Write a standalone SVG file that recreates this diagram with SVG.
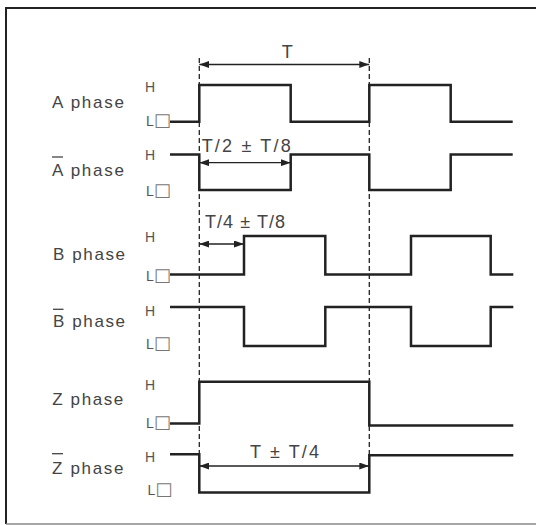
<svg xmlns="http://www.w3.org/2000/svg" width="536" height="525" viewBox="0 0 536 525">
<style>
  .lbl { font-family: "Liberation Sans", Arial, sans-serif; font-size: 17px; fill: #444; }
  .hl { font-family: "Liberation Sans", Arial, sans-serif; font-size: 14px; fill: #555; }
  .sq { font-family: "DejaVu Sans", sans-serif; font-size: 18px; fill: #777; }
  .dim { font-family: "Liberation Sans", Arial, sans-serif; font-size: 18px; fill: #444; }
  .sig { fill: none; stroke: #222; stroke-width: 2.5; stroke-linejoin: miter; }
  .ovl { stroke: #444; stroke-width: 1.3; }
  .dash { stroke: #222; stroke-width: 1.3; stroke-dasharray: 5 3; fill: none; }
  .arr { stroke: #222; stroke-width: 1.3; fill: none; marker-start: url(#ah); marker-end: url(#ah); }
</style>
<defs>
  <marker id="ah" viewBox="0 0 10 7" refX="10" refY="3.5" markerWidth="10" markerHeight="7" markerUnits="userSpaceOnUse" orient="auto-start-reverse">
    <path d="M0,0 L10,3.5 L0,7 z" fill="#222"/>
  </marker>
</defs>
<rect width="536" height="525" fill="#fff"/>
<g id="frame">
  <path d="M6,524 V8 H536" fill="none" stroke="#222" stroke-width="2"/>
  <path d="M6,524 H536" fill="none" stroke="#888" stroke-width="1.5"/>
</g>
<g id="guides">
  <line class="dash" x1="199.3" y1="58" x2="199.3" y2="493"/>
  <line class="dash" x1="369.3" y1="58" x2="369.3" y2="493"/>
</g>
<g id="phase-a">
  <text class="lbl" x="52" y="108.3" textLength="72" lengthAdjust="spacing">A phase</text>
  <text class="hl" x="145" y="91.5">H</text>
  <text class="hl" x="146" y="125.5">L<tspan class="sq">□</tspan></text>
  <path class="sig" d="M170,121.7 H199.3 V85 H290.7 V121.7 H369.3 V85 H450.7 V121.7 H512.7"/>
</g>
<g id="phase-a-bar">
  <line class="ovl" x1="52" y1="157" x2="63" y2="157"/>
  <text class="lbl" x="52" y="175.5" textLength="72" lengthAdjust="spacing">A phase</text>
  <text class="hl" x="145" y="159.8">H</text>
  <text class="hl" x="146" y="195.5">L<tspan class="sq">□</tspan></text>
  <path class="sig" d="M170,154.5 H199.3 V190 H290.7 V154.5 H369.3 V190 H450.7 V154.5 H512.7"/>
</g>
<g id="phase-b">
  <text class="lbl" x="53" y="260" textLength="72" lengthAdjust="spacing">B phase</text>
  <text class="hl" x="145" y="242">H</text>
  <text class="hl" x="146" y="280.5">L<tspan class="sq">□</tspan></text>
  <path class="sig" d="M170,274.5 H244 V236 H325.3 V274.5 H411 V236 H490.7 V274.5 H513.3"/>
</g>
<g id="phase-b-bar">
  <line class="ovl" x1="53" y1="309.3" x2="63.5" y2="309.3"/>
  <text class="lbl" x="53" y="327.3" textLength="72" lengthAdjust="spacing">B phase</text>
  <text class="hl" x="145" y="315.5">H</text>
  <text class="hl" x="146" y="348.8">L<tspan class="sq">□</tspan></text>
  <path class="sig" d="M170,307 H244 V346 H325.3 V307 H411 V346 H490.7 V307 H513.3"/>
</g>
<g id="phase-z">
  <text class="lbl" x="52.3" y="405" textLength="71" lengthAdjust="spacing">Z phase</text>
  <text class="hl" x="145" y="389.5">H</text>
  <text class="hl" x="146" y="427.8">L<tspan class="sq">□</tspan></text>
  <path class="sig" d="M170,423.5 H199.3 V381.7 H369.3 V425.5 H513.3"/>
</g>
<g id="phase-z-bar">
  <line class="ovl" x1="52" y1="453.7" x2="63" y2="453.7"/>
  <text class="lbl" x="52" y="474" textLength="71.5" lengthAdjust="spacing">Z phase</text>
  <text class="hl" x="145" y="461.5">H</text>
  <text class="hl" x="147.5" y="494.5">L<tspan class="sq">□</tspan></text>
  <path class="sig" d="M170,454.3 H199.3 V492.5 H369.3 V455.3 H513.3"/>
</g>
<g id="connectors">
  <line class="arr" x1="199.3" y1="64.5" x2="369.3" y2="64.5"/>
  <line class="arr" x1="199.3" y1="162.7" x2="290.7" y2="162.7"/>
  <line class="arr" x1="199.3" y1="244" x2="244" y2="244"/>
  <line class="arr" x1="199.3" y1="466" x2="369.3" y2="466"/>
  <text class="dim" x="287.3" y="57.7" text-anchor="middle">T</text>
  <text class="dim" x="201.7" y="151.7" textLength="89" lengthAdjust="spacing">T/2 ± T/8</text>
  <text class="dim" x="205" y="227.7" textLength="80" lengthAdjust="spacing">T/4 ± T/8</text>
  <text class="dim" x="250" y="458.3" textLength="69" lengthAdjust="spacing">T ± T/4</text>
</g>
</svg>
